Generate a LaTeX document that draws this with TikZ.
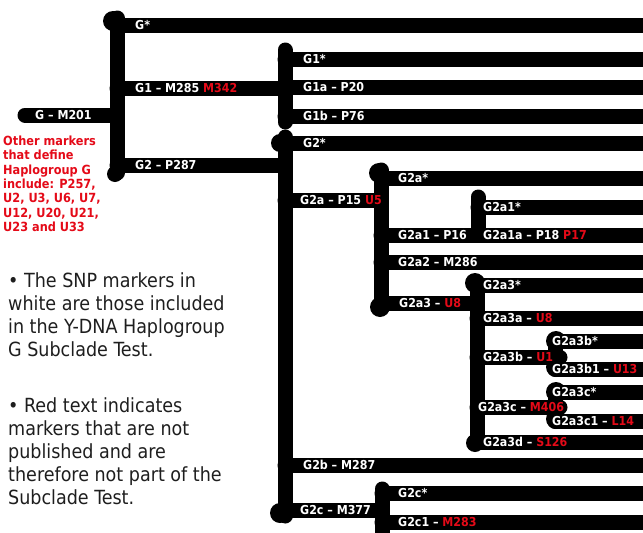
\documentclass[tikz,border=0pt]{standalone}
\usepackage{fontspec}
\IfFontExistsTF{DejaVu Sans Condensed}{\newfontfamily\tah{DejaVu Sans Condensed}}{\newfontfamily\tah[FakeStretch=0.9]{DejaVu Sans}}
\definecolor{mred}{RGB}{228,10,24}
\definecolor{ink}{RGB}{30,30,30}
\tikzset{
 bar/.style={line width=15pt, line cap=round, draw=black},
 blob/.style={fill=black},
 lbl/.style={anchor=base west, inner sep=0pt, text=white, font=\tah\bfseries\fontsize{12.3}{14}\selectfont},
 note/.style={anchor=north west, inner sep=0pt, align=left, text=ink, font=\tah\fontsize{19.5}{23}\selectfont},
 rnote/.style={anchor=north west, inner sep=0pt, align=left, text=mred, font=\tah\bfseries\fontsize{12.6}{14.4}\selectfont},
}
\newcommand\R[1]{\textcolor{mred}{#1}}
\newcommand\lab[4]{\node[lbl] (#1) at (#2,#3+4.4) {#4};}
\newcommand\brr[3]{\draw[bar] (#1,#3) -- (#2,#3);}
\newcommand\trk[3]{\draw[bar] (#1,#2) -- (#1,#3);}
\newcommand\blb[3]{\fill[blob] (#1,#2) circle[radius=#3];}
\begin{document}
\begin{tikzpicture}[x=1pt,y=-1pt]
\useasboundingbox (0,0) rectangle (643,533);
\clip (0,0) rectangle (643,533);
% trunks
\trk{117}{18}{173}
\blb{113}{21}{10}
\blb{115}{174}{8}
\trk{285}{50}{122}
\trk{285}{137}{516}
\blb{280}{143}{9}
\blb{280}{513}{10}
\trk{381}{170}{303}
\blb{379}{173}{10}
\blb{380}{307}{10}
\trk{478}{197}{235}
\trk{477}{282}{440}
\blb{475}{283}{10}
\blb{475}{443}{9}
\trk{555}{341}{369}
\blb{556}{341}{10}
\blb{556}{367}{10}
\trk{555}{392}{421}
\blb{556}{392}{10}
\blb{556}{419}{10}
\trk{382}{489}{545}
% bars
\brr{25}{117}{115}
\brr{117}{660}{25}
\brr{117}{285}{88}
\brr{117}{285}{165}
\brr{285}{660}{59}
\brr{285}{660}{87}
\brr{285}{660}{116}
\brr{285}{660}{143}
\brr{285}{381}{200}
\brr{381}{660}{178}
\brr{381}{660}{235}
\brr{478}{660}{207}
\brr{381}{660}{262}
\brr{381}{477}{303}
\brr{477}{660}{285}
\brr{477}{660}{318}
\brr{477}{560}{357}
\brr{555}{660}{341}
\brr{555}{660}{369}
\brr{555}{660}{392}
\brr{477}{560}{407}
\brr{555}{660}{421}
\brr{477}{660}{442}
\brr{285}{660}{465}
\brr{285}{382}{510}
\brr{382}{660}{493}
\brr{382}{660}{522}
% labels
\lab{lGM}{35}{115}{G – M201}
\lab{lGs}{135}{25}{G*}
\lab{lG1}{135}{88}{G1 – M285 \R{M342}}
\lab{lG2}{135}{165}{G2 – P287}
\lab{lG1s}{303}{59}{G1*}
\lab{lG1a}{303}{87}{G1a – P20}
\lab{lG1b}{303}{116}{G1b – P76}
\lab{lG2s}{303}{143}{G2*}
\lab{lG2a}{300}{200}{G2a – P15 \R{U5}}
\lab{lG2as}{398}{178}{G2a*}
\lab{lG2a1}{398}{235}{G2a1 – P16}
\lab{lG2a1s}{483}{207}{G2a1*}
\lab{lG2a1a}{483}{235}{G2a1a – P18 \R{P17}}
\lab{lG2a2}{398}{262}{G2a2 – M286}
\lab{lG2a3}{399}{303}{G2a3 – \R{U8}}
\lab{lG2a3s}{483}{285}{G2a3*}
\lab{lG2a3a}{483}{318}{G2a3a – \R{U8}}
\lab{lG2a3b}{483}{357}{G2a3b – \R{U1}}
\lab{lG2a3bs}{552}{341}{G2a3b*}
\lab{lG2a3bi}{552}{369}{G2a3b1 – \R{U13}}
\lab{lG2a3cs}{552}{392}{G2a3c*}
\lab{lG2a3c}{478}{407}{G2a3c – \R{M406}}
\lab{lG2a3ci}{552}{421}{G2a3c1 – \R{L14}}
\lab{lG2a3d}{483}{442}{G2a3d – \R{S126}}
\lab{lG2b}{303}{465}{G2b – M287}
\lab{lG2c}{300}{510}{G2c – M377}
\lab{lG2cs}{398}{493}{G2c*}
\lab{lG2ci}{398}{522}{G2c1 – \R{M283}}
% notes
\node[rnote] (other) at (3,135.5) {Other markers\\that define\\Haplogroup G\\include: P257,\\U2, U3, U6, U7,\\U12, U20, U21,\\U23 and U33};
\node[note] (n1) at (8,272) {• The SNP markers in\\white are those included\\in the Y-DNA Haplogroup\\G Subclade Test.};
\node[note] (n2) at (8,397) {• Red text indicates\\markers that are not\\published and are\\therefore not part of the\\Subclade Test.};
\end{tikzpicture}
\end{document}
